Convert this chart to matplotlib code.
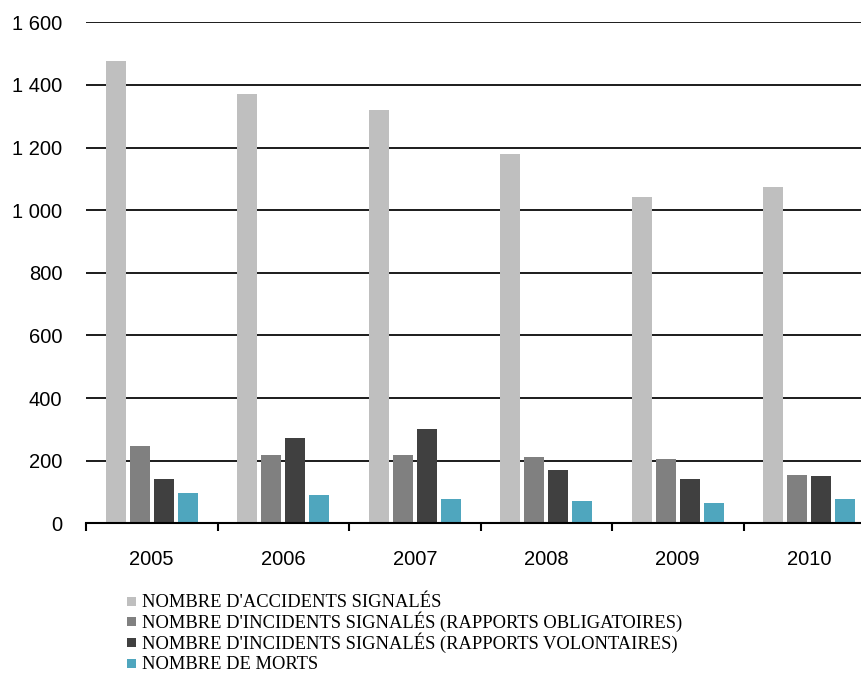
import matplotlib.pyplot as plt
import matplotlib.ticker as mticker
from matplotlib.patches import Rectangle
import numpy as np

# Data
years = ['2005', '2006', '2007', '2008', '2009', '2010']
accidents = [1478, 1370, 1319, 1178, 1042, 1074]
incidents_oblig = [246, 219, 219, 212, 206, 155]
incidents_volont = [143, 271, 302, 169, 143, 150]
morts = [98, 91, 79, 72, 66, 79]

series = [accidents, incidents_oblig, incidents_volont, morts]
labels = ["NOMBRE D'ACCIDENTS SIGNALÉS",
          "NOMBRE D'INCIDENTS SIGNALÉS (RAPPORTS OBLIGATOIRES)",
          "NOMBRE D'INCIDENTS SIGNALÉS (RAPPORTS VOLONTAIRES)",
          "NOMBRE DE MORTS"]
colors = ['#BFBFBF', '#808080', '#404040', '#4FA6BE']

W, H = 861, 675
fig = plt.figure(figsize=(W / 100, H / 100), dpi=100)
# plot area runs past the right border, as in the original
ax = fig.add_axes([86 / W, 151.7 / H, 789 / W, 501 / H])

x = np.arange(len(years))
pitch = 0.1825
bw = 0.152
for i, (vals, c) in enumerate(zip(series, colors)):
    ax.bar(x + (i - 1.5) * pitch, vals, width=bw, color=c, zorder=3)

ax.set_xlim(-0.5, len(years) - 0.5)
ax.set_ylim(0, 1600)
ax.set_yticks(np.arange(0, 1601, 200))
ax.yaxis.set_major_formatter(mticker.FuncFormatter(
    lambda v, p: f'{int(v):,}'.replace(',', ' ')))
ax.grid(axis='y', color='black', linewidth=1.25, zorder=0)
ax.get_ygridlines()[0].set_visible(False)

for s in ['left', 'right', 'top']:
    ax.spines[s].set_visible(False)
ax.spines['bottom'].set_linewidth(1.5)
ax.spines['bottom'].set_zorder(4)

ax.set_xticks(x)
ax.set_xticklabels(years)
ax.set_xticks(np.arange(-0.5, len(years), 1), minor=True)
ax.tick_params(axis='x', which='major', length=0, pad=19, labelsize=14.5)
ax.tick_params(axis='x', which='minor', length=6, width=1.5, direction='out')
ax.tick_params(axis='y', length=0, pad=17, labelsize=14.5)
for t in ax.get_xticklabels() + ax.get_yticklabels():
    t.set_fontfamily('Liberation Sans')

# legend drawn by hand to match the tight row spacing of the original
row_y = [601, 621.7, 642.4, 663.1]
for lab, c, yy in zip(labels, colors, row_y):
    fig.patches.append(Rectangle((126.7 / W, 1 - (yy + 4.5) / H), 9 / W, 9 / H,
                                 facecolor=c, edgecolor='none',
                                 transform=fig.transFigure, figure=fig))
    fig.text(142 / W, 1 - (yy + 6.2) / H, lab, ha='left', va='baseline',
             fontsize=13.3, family='Liberation Serif')

fig.savefig('out.png', dpi=100)
